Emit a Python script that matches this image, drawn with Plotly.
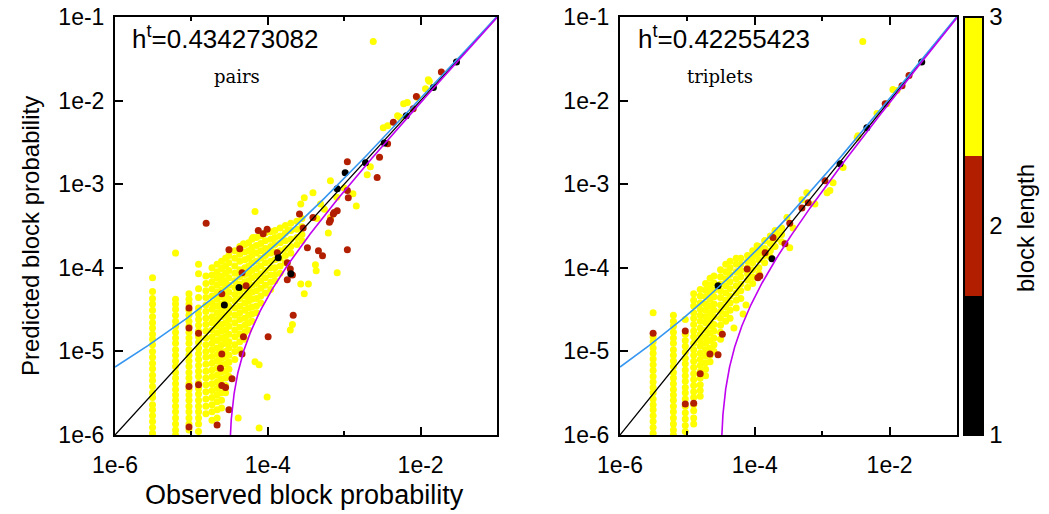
import numpy as np
import plotly.graph_objects as go

# ---------------- data ----------------
y_tick_vals = [1e-6, 1e-5, 1e-4, 1e-3, 1e-2, 1e-1]
y_tick_text = ["1e-6", "1e-5", "1e-4", "1e-3", "1e-2", "1e-1"]
x_tick_vals = [1e-6, 1e-4, 1e-2]
x_tick_text = ["1e-6", "1e-4", "1e-2"]
x_minor_vals = [1e-5, 1e-3]

panel_names = ["pairs", "triplets"]
entropy_labels = ["h<sup>t</sup>=0.434273082", "h<sup>t</sup>=0.42255423"]
band_coef = [5.5e-3, 5.5e-3]   # width of the +/- sqrt(p) bands

block_lengths = [1, 2, 3]
block_colors = ["#000000", "#b21f00", "#ffff00"]

# ---- pairs panel: yellow points organised by observed-probability column
pairs_col_x = [3.1e-6, 6.2e-6, 9.3e-6, 1.24e-5, 1.55e-5, 1.86e-5, 2.17e-5, 2.48e-5,
               2.8e-5, 3.1e-5, 3.7e-5, 4.3e-5, 5.0e-5, 5.6e-5, 6.2e-5, 7.1e-5,
               8.1e-5, 9.3e-5, 1.09e-4, 1.24e-4, 1.45e-4, 1.7e-4, 2.0e-4, 2.4e-4, 2.8e-4]
pairs_col_y = [
    [7.6e-5, 5.2e-5, 4.3e-5, 3.7e-5, 3.1e-5, 2.6e-5, 2.2e-5, 1.9e-5, 1.6e-5, 1.4e-5, 1.2e-5, 1.0e-5,
     8.5e-6, 7.2e-6, 6.2e-6, 5.2e-6, 4.5e-6, 3.8e-6, 3.2e-6, 2.8e-6, 2.3e-6, 2.0e-6, 1.7e-6, 1.45e-6,
     1.23e-6, 1.05e-6],
    [1.5e-4, 4.2e-5, 3.7e-5, 3.2e-5, 2.7e-5, 2.3e-5, 2.0e-5, 1.7e-5, 1.45e-5, 1.25e-5, 1.05e-5, 9.0e-6,
     7.7e-6, 6.6e-6, 5.6e-6, 4.8e-6, 4.1e-6, 3.5e-6, 3.0e-6, 2.6e-6, 2.2e-6, 1.9e-6, 1.6e-6, 1.35e-6,
     1.15e-6, 1.0e-6],
    [4.9e-5, 4.2e-5, 3.7e-5, 3.1e-5, 2.7e-5, 2.3e-5, 2.0e-5, 1.7e-5, 1.45e-5, 1.25e-5, 1.05e-5, 9.0e-6,
     7.7e-6, 6.6e-6, 5.6e-6, 4.8e-6, 4.1e-6, 3.5e-6, 3.0e-6, 2.6e-6, 2.2e-6, 1.9e-6, 1.6e-6, 1.35e-6,
     1.15e-6],
    [1.1e-4, 8.5e-5, 5.6e-5, 4.4e-5, 3.3e-5, 2.8e-5, 2.4e-5, 2.05e-5, 1.75e-5, 1.5e-5, 1.28e-5, 1.1e-5,
     9.4e-6, 8.0e-6, 6.8e-6, 5.8e-6, 5.0e-6, 4.2e-6, 3.6e-6, 3.1e-6, 2.6e-6, 2.2e-6, 1.9e-6, 1.6e-6,
     1.35e-6, 1.1e-6],
    [8.0e-5, 6.5e-5, 5.3e-5, 4.4e-5, 3.6e-5, 3.0e-5, 2.5e-5, 2.1e-5, 1.75e-5, 1.45e-5, 1.2e-5, 1.0e-5,
     8.5e-6, 7.0e-6, 5.8e-6, 4.8e-6, 4.0e-6, 3.3e-6, 2.7e-6, 2.2e-6, 1.8e-6],
    [1.0e-4, 8.2e-5, 6.8e-5, 5.6e-5, 4.6e-5, 3.8e-5, 3.2e-5, 2.6e-5, 2.2e-5, 1.8e-5, 1.5e-5, 1.25e-5,
     1.05e-5, 8.7e-6, 7.2e-6, 6.0e-6, 5.0e-6, 4.1e-6, 3.4e-6, 2.8e-6, 2.3e-6, 1.9e-6, 1.5e-6],
    [1.1e-4, 9.0e-5, 7.5e-5, 6.2e-5, 5.1e-5, 4.2e-5, 3.5e-5, 2.9e-5, 2.4e-5, 2.0e-5, 1.65e-5, 1.35e-5,
     1.1e-5, 9.2e-6, 7.6e-6, 6.3e-6, 5.2e-6, 4.3e-6, 3.6e-6, 3.0e-6, 2.5e-6, 2.0e-6, 1.6e-6],
    [1.2e-4, 9.8e-5, 8.0e-5, 6.6e-5, 5.4e-5, 4.5e-5, 3.7e-5, 3.1e-5, 2.6e-5, 2.1e-5, 1.75e-5, 1.45e-5,
     1.2e-5, 1.0e-5, 8.3e-6, 6.9e-6, 5.7e-6, 4.7e-6, 3.9e-6, 3.2e-6, 2.6e-6, 2.1e-6],
    [1.3e-4, 1.05e-4, 8.6e-5, 7.0e-5, 5.8e-5, 4.8e-5, 4.0e-5, 3.3e-5, 2.7e-5, 2.2e-5, 1.8e-5, 1.5e-5,
     1.25e-5, 1.0e-5, 8.5e-6, 7.0e-6, 5.8e-6, 4.8e-6, 3.9e-6, 3.2e-6],
    [1.4e-4, 1.15e-4, 9.3e-5, 7.6e-5, 6.2e-5, 5.1e-5, 4.2e-5, 3.5e-5, 2.9e-5, 2.4e-5, 2.0e-5, 1.6e-5,
     1.3e-5, 1.1e-5, 9.0e-6, 7.4e-6, 6.1e-6, 5.0e-6],
    [1.6e-4, 1.3e-4, 1.05e-4, 8.6e-5, 7.0e-5, 5.8e-5, 4.8e-5, 4.0e-5, 3.3e-5, 2.7e-5, 2.2e-5, 1.8e-5,
     1.5e-5, 1.2e-5, 1.0e-5, 8.0e-6],
    [1.8e-4, 1.45e-4, 1.2e-4, 9.5e-5, 7.8e-5, 6.4e-5, 5.2e-5, 4.3e-5, 3.5e-5, 2.9e-5, 2.4e-5, 1.95e-5,
     1.6e-5, 1.3e-5, 1.05e-5],
    [1.9e-4, 1.55e-4, 1.25e-4, 1.0e-4, 8.3e-5, 6.8e-5, 5.6e-5, 4.6e-5, 3.8e-5, 3.1e-5, 2.5e-5, 2.05e-5,
     1.7e-5, 1.4e-5],
    [2.0e-4, 1.6e-4, 1.3e-4, 1.05e-4, 8.6e-5, 7.0e-5, 5.8e-5, 4.8e-5, 4.0e-5, 3.3e-5, 2.7e-5, 2.2e-5, 1.8e-5],
    [2.2e-4, 1.75e-4, 1.4e-4, 1.15e-4, 9.3e-5, 7.6e-5, 6.2e-5, 5.1e-5, 4.2e-5, 3.4e-5, 2.8e-5, 2.3e-5],
    [2.3e-4, 1.85e-4, 1.5e-4, 1.2e-4, 9.8e-5, 8.0e-5, 6.5e-5, 5.3e-5, 4.3e-5, 3.5e-5, 2.9e-5],
    [2.4e-4, 1.95e-4, 1.6e-4, 1.3e-4, 1.05e-4, 8.5e-5, 7.0e-5, 5.7e-5, 4.6e-5, 3.8e-5],
    [2.6e-4, 2.1e-4, 1.7e-4, 1.4e-4, 1.15e-4, 9.3e-5, 7.6e-5, 6.2e-5, 5.0e-5],
    [2.7e-4, 2.2e-4, 1.8e-4, 1.5e-4, 1.2e-4, 1.0e-4, 8.2e-5, 6.7e-5, 5.5e-5],
    [2.8e-4, 2.3e-4, 1.9e-4, 1.55e-4, 1.25e-4, 1.0e-4, 8.3e-5, 7.0e-5],
    [3.0e-4, 2.4e-4, 2.0e-4, 1.6e-4, 1.3e-4, 1.05e-4, 8.6e-5],
    [3.2e-4, 2.6e-4, 2.1e-4, 1.7e-4, 1.4e-4, 1.15e-4],
    [3.4e-4, 2.8e-4, 2.2e-4, 1.8e-4, 1.5e-4],
    [3.6e-4, 2.9e-4, 2.3e-4, 1.9e-4],
    [3.9e-4, 3.1e-4, 2.5e-4, 2.1e-4],
]
pairs_yellow_x = [2.4e-3, 1.26e-2, 1.3e-2, 1.16e-2, 9.1e-3, 6.7e-3, 6.0e-3, 5.0e-3, 5.4e-3, 3.7e-3,
                  3.25e-3, 2.2e-3, 2.0e-3, 6.6e-4, 3.9e-4, 3.0e-4, 1.3e-3, 1.44e-3, 6.8e-5, 1.85e-4,
                  6.4e-5, 4.8e-5, 6.2e-5, 2.7e-4, 6.6e-4, 4.4e-4, 4.9e-4, 6.2e-4, 8.1e-4, 4.3e-4,
                  2.5e-5, 4.2e-4, 3.0e-4, 3.4e-4, 2.7e-4, 1.97e-4, 2.1e-4, 6.8e-5, 7.7e-5, 9.8e-5,
                  4.1e-5, 7.7e-5, 5.5e-4, 8.0e-4, 1.0e-3]
pairs_yellow_y = [5.1e-2, 1.78e-2, 1.7e-2, 1.39e-2, 1.09e-2, 9.5e-3, 9.2e-3, 6.6e-3, 6.3e-3, 5.0e-3,
                  4.75e-3, 1.62e-3, 1.3e-3, 1.1e-3, 7.9e-4, 6.9e-4, 7.7e-4, 5.5e-4, 4.7e-4, 2.8e-4,
                  2.3e-4, 1.94e-4, 1.6e-4, 5.8e-4, 4.0e-4, 3.9e-4, 5.8e-4, 2.6e-4, 8.7e-5, 9.2e-5,
                  6.8e-5, 1.09e-4, 4.9e-5, 6.4e-5, 6.4e-5, 1.8e-5, 2.1e-5, 7.5e-6, 6.9e-6, 2.85e-6,
                  1.6e-6, 1.21e-6, 5.0e-4, 7.0e-4, 9.0e-4]
pairs_red_x = [1.87e-2, 8.8e-3, 8.0e-3, 4.4e-3, 3.7e-3, 2.9e-3, 1.1e-3, 2.7e-3, 1.1e-3, 1.13e-3,
               8.1e-4, 7.2e-4, 6.6e-4, 3.9e-4, 2.6e-4, 1.56e-5, 7.5e-5, 9.8e-5, 8.7e-5, 3.1e-5,
               4.3e-5, 1.1e-3, 2.9e-4, 3.3e-4, 5.2e-4, 6.4e-4, 7.4e-4, 1.33e-4, 1.8e-4, 1.97e-4,
               2.1e-4, 1.8e-4, 4.6e-5, 5.2e-5, 2.5e-5, 4.6e-4, 2.15e-4, 1.01e-4, 4.8e-5, 4.6e-5,
               2.5e-5, 2.4e-5, 2.5e-5, 2.8e-5, 3.4e-5, 3.1e-5, 2.17e-5, 9.3e-6, 9.3e-6, 1.24e-5,
               9.3e-6, 9.3e-6, 1.24e-5]
pairs_red_y = [2.2e-2, 1.12e-2, 8.0e-3, 5.5e-3, 3.05e-3, 2.1e-3, 1.86e-3, 1.2e-3, 8.4e-4, 6.9e-4,
               4.8e-4, 4.4e-4, 3.7e-4, 4.0e-4, 4.4e-4, 3.4e-4, 2.8e-4, 2.9e-4, 2.55e-4, 1.64e-4,
               1.69e-4, 1.64e-4, 3.0e-4, 1.74e-4, 1.39e-4, 3.5e-4, 4.6e-4, 1.51e-4, 1.15e-4, 9.7e-5,
               8.2e-5, 7.2e-5, 8.7e-5, 6.1e-5, 4.9e-5, 1.6e-4, 2.7e-5, 1.5e-5, 1.5e-5, 9.3e-6,
               9.3e-6, 6.3e-6, 3.9e-6, 3.7e-6, 4.7e-6, 2.0e-6, 1.32e-6, 3.3e-5, 1.9e-5, 1.65e-5,
               3.8e-6, 1.25e-6, 4.0e-6]
pairs_black_x = [2.95e-2, 1.47e-2, 6.5e-3, 3.35e-3, 1.9e-3, 1.03e-3, 8.1e-4, 1.37e-4, 2.0e-4, 4.2e-5, 2.7e-5]
pairs_black_y = [2.9e-2, 1.43e-2, 6.6e-3, 3.1e-3, 1.8e-3, 1.37e-3, 8.8e-4, 1.32e-4, 8.5e-5, 5.8e-5, 3.6e-5]

# ---- triplets panel
triplets_col_x = [3.1e-6, 6.2e-6, 9.3e-6, 1.24e-5, 1.55e-5, 1.86e-5, 2.17e-5, 2.48e-5, 3.1e-5,
                  3.7e-5, 4.3e-5, 5.3e-5, 6.2e-5, 7.8e-5, 9.3e-5, 1.15e-4, 1.4e-4, 1.7e-4, 2.0e-4, 2.5e-4]
triplets_col_y = [
    [2.9e-5, 1.5e-5, 1.3e-5, 1.1e-5, 9.5e-6, 8.1e-6, 6.9e-6, 5.9e-6, 5.0e-6, 4.3e-6, 3.7e-6, 3.2e-6,
     2.7e-6, 2.3e-6, 2.0e-6, 1.7e-6, 1.45e-6, 1.23e-6, 1.05e-6],
    [2.7e-5, 2.3e-5, 2.0e-5, 1.7e-5, 1.45e-5, 1.25e-5, 1.05e-5, 9.0e-6, 7.7e-6, 6.6e-6, 5.6e-6, 4.8e-6,
     4.1e-6, 3.5e-6, 3.0e-6, 2.6e-6, 2.2e-6, 1.9e-6, 1.6e-6, 1.35e-6, 1.15e-6, 1.0e-6],
    [2.4e-5, 1.6e-5, 1.35e-5, 1.15e-5, 9.8e-6, 8.3e-6, 7.1e-6, 6.0e-6, 5.1e-6, 4.4e-6, 3.7e-6, 3.2e-6,
     2.7e-6, 2.2e-6, 1.85e-6, 1.55e-6, 1.3e-6, 1.1e-6],
    [4.9e-5, 4.1e-5, 3.5e-5, 2.9e-5, 2.5e-5, 2.1e-5, 1.75e-5, 1.5e-5, 1.25e-5, 1.05e-5, 9.0e-6, 7.6e-6,
     6.4e-6, 5.4e-6, 4.6e-6, 3.9e-6, 3.3e-6, 2.8e-6, 2.3e-6, 1.95e-6, 1.6e-6, 1.35e-6],
    [5.5e-5, 4.6e-5, 3.8e-5, 3.2e-5, 2.7e-5, 2.3e-5, 1.9e-5, 1.6e-5, 1.35e-5, 1.15e-5, 9.5e-6, 8.0e-6,
     6.8e-6, 5.7e-6, 4.8e-6, 4.0e-6, 3.4e-6, 2.9e-6],
    [6.5e-5, 5.4e-5, 4.5e-5, 3.7e-5, 3.1e-5, 2.6e-5, 2.2e-5, 1.8e-5, 1.5e-5, 1.25e-5, 1.05e-5, 8.8e-6,
     7.3e-6, 6.1e-6, 5.1e-6],
    [7.5e-5, 6.2e-5, 5.1e-5, 4.2e-5, 3.5e-5, 2.9e-5, 2.4e-5, 2.0e-5, 1.65e-5, 1.35e-5, 1.1e-5, 9.0e-6, 7.5e-6],
    [8.0e-5, 6.6e-5, 5.4e-5, 4.5e-5, 3.7e-5, 3.1e-5, 2.6e-5, 2.1e-5, 1.75e-5, 1.45e-5, 1.2e-5, 1.0e-5],
    [9.5e-5, 7.8e-5, 6.4e-5, 5.3e-5, 4.4e-5, 3.6e-5, 3.0e-5, 2.5e-5, 2.05e-5, 1.7e-5, 1.4e-5],
    [1.1e-4, 9.0e-5, 7.4e-5, 6.1e-5, 5.0e-5, 4.1e-5, 3.4e-5, 2.8e-5, 2.3e-5],
    [1.2e-4, 1.0e-4, 8.3e-5, 6.8e-5, 5.6e-5, 4.6e-5, 3.8e-5, 3.1e-5, 2.5e-5],
    [1.3e-4, 1.1e-4, 9.0e-5, 7.4e-5, 6.1e-5, 5.0e-5, 4.1e-5, 3.3e-5],
    [1.3e-4, 1.1e-4, 9.3e-5, 7.8e-5, 6.4e-5, 5.3e-5, 4.3e-5],
    [1.4e-4, 1.2e-4, 1.0e-4, 8.5e-5, 7.1e-5, 5.8e-5],
    [1.6e-4, 1.35e-4, 1.15e-4, 9.5e-5, 7.8e-5, 6.5e-5],
    [1.8e-4, 1.5e-4, 1.25e-4, 1.0e-4, 8.5e-5],
    [2.1e-4, 1.7e-4, 1.4e-4, 1.15e-4],
    [2.4e-4, 1.95e-4, 1.6e-4, 1.35e-4],
    [2.7e-4, 2.2e-4, 1.8e-4],
    [3.0e-4, 2.5e-4, 2.05e-4],
]
triplets_yellow_x = [4.0e-3, 1.12e-2, 1.29e-2, 9.1e-3, 6.5e-3, 3.4e-3, 3.3e-3, 2.04e-3, 1.45e-3, 1.3e-3,
                     1.18e-3, 5.9e-4, 5.0e-4, 7.8e-4, 3.0e-4, 3.7e-4, 2.0e-4, 2.13e-4, 1.42e-4, 1.19e-4,
                     3.3e-4, 1.08e-4, 1.08e-4, 8.5e-5, 1.95e-5, 4.9e-5, 6.7e-5, 7.4e-5]
triplets_yellow_y = [5.1e-2, 1.36e-2, 1.32e-2, 9.2e-3, 7.0e-3, 3.8e-3, 3.6e-3, 1.58e-3, 1.04e-3, 8.4e-4,
                     7.9e-4, 7.9e-4, 6.5e-4, 5.8e-4, 4.0e-4, 3.0e-4, 2.8e-4, 2.55e-4, 2.1e-4, 1.74e-4,
                     1.74e-4, 1.47e-4, 1.83e-4, 1.21e-4, 5.6e-5, 1.9e-5, 2.8e-5, 3.6e-5]
triplets_red_x = [1.94e-2, 1.53e-2, 8.6e-3, 1.1e-3, 6.2e-4, 5.0e-4, 3.3e-4, 1.86e-4, 2.8e-4, 1.42e-4,
                  7.7e-5, 1.11e-4, 1.19e-4, 3.3e-5, 2.85e-5, 2.16e-5, 1.55e-5, 1.24e-5, 9.3e-6, 9.3e-6, 3.1e-6]
triplets_red_y = [2.0e-2, 1.51e-2, 9.2e-3, 1.1e-3, 6.0e-4, 5.2e-4, 3.4e-4, 2.3e-4, 1.94e-4, 1.51e-4,
                  9.7e-5, 7.6e-5, 8.0e-5, 1.6e-5, 9.1e-6, 9.3e-6, 5.4e-6, 2.4e-6, 1.76e-5, 2.35e-6, 1.65e-5]
triplets_black_x = [3.0e-2, 4.6e-3, 1.84e-3, 1.8e-4, 2.85e-5]
triplets_black_y = [2.9e-2, 4.75e-3, 1.76e-3, 1.28e-4, 6.1e-5]

# ---------------- layout geometry ----------------
# The page body margin is removed (see post_script), so the figure fills the window.
W, H = 1049, 514
FONT = "Liberation Sans, Arial, Helvetica, sans-serif"


def px(xs):
    return xs / W


def py(ys):
    return (H - ys) / H


x_domains = [[px(115), px(497)], [px(620), px(957)]]
y_domain = [py(435), py(17)]


def expand_columns(col_x, col_y):
    xs, ys = [], []
    for cx, cys in zip(col_x, col_y):
        for cy in cys:
            xs.append(cx)
            ys.append(cy)
    return xs, ys


panels = [
    dict(col_x=pairs_col_x, col_y=pairs_col_y, yx=pairs_yellow_x, yy=pairs_yellow_y,
         rx=pairs_red_x, ry=pairs_red_y, bx=pairs_black_x, by=pairs_black_y),
    dict(col_x=triplets_col_x, col_y=triplets_col_y, yx=triplets_yellow_x, yy=triplets_yellow_y,
         rx=triplets_red_x, ry=triplets_red_y, bx=triplets_black_x, by=triplets_black_y),
]

fig = go.Figure()

for i, p in enumerate(panels):
    xa = "x" if i == 0 else "x2"
    ya = "y" if i == 0 else "y2"
    cx, cy = expand_columns(p["col_x"], p["col_y"])
    yellow_x = cx + p["yx"]
    yellow_y = cy + p["yy"]
    groups = [(yellow_x, yellow_y, block_lengths[2]),
              (p["rx"], p["ry"], block_lengths[1]),
              (p["bx"], p["by"], block_lengths[0])]
    for gx, gy, length in groups:
        fig.add_trace(go.Scatter(
            x=gx, y=gy, mode="markers", xaxis=xa, yaxis=ya, showlegend=False,
            marker=dict(size=7, color=[length] * len(gx), coloraxis="coloraxis",
                        line=dict(width=0)),
            hoverinfo="skip"))

    a = band_coef[i]
    xs = np.logspace(-6, -1, 500)
    fig.add_trace(go.Scatter(x=xs, y=xs, mode="lines", xaxis=xa, yaxis=ya, showlegend=False,
                             line=dict(color="black", width=1.3), hoverinfo="skip"))
    fig.add_trace(go.Scatter(x=xs, y=xs + a * np.sqrt(xs), mode="lines", xaxis=xa, yaxis=ya,
                             showlegend=False, line=dict(color="#3596f0", width=1.6),
                             hoverinfo="skip"))
    t = np.logspace(-3, np.log10(0.1 / a ** 2 - 1), 900)
    xm = a ** 2 * (1 + t)
    fig.add_trace(go.Scatter(x=xm, y=xm - a * np.sqrt(xm), mode="lines", xaxis=xa, yaxis=ya,
                             showlegend=False, line=dict(color="#c000f0", width=1.6),
                             hoverinfo="skip"))

axis_common = dict(type="log", range=[-6, -1], showgrid=False, zeroline=False,
                   showline=True, linecolor="black", linewidth=2, automargin=False,
                   ticklabeloverflow="allow",
                   tickfont=dict(family=FONT, size=23, color="black"))

for i in range(2):
    sfx = "" if i == 0 else str(i + 1)
    fig.layout["xaxis" + sfx] = dict(
        axis_common, domain=x_domains[i], anchor="y" + sfx,
        tickmode="array", tickvals=x_tick_vals, ticktext=x_tick_text,
        ticks="inside", ticklen=8, tickwidth=2, tickcolor="black", mirror="ticks",
        ticklabelstandoff=8,
        minor=dict(tickmode="array", tickvals=x_minor_vals, ticks="inside", ticklen=4,
                   tickwidth=2, tickcolor="black"))
    fig.layout["yaxis" + sfx] = dict(
        axis_common, domain=y_domain, anchor="x" + sfx,
        tickmode="array", tickvals=y_tick_vals, ticktext=y_tick_text,
        ticks="inside", ticklen=8, tickwidth=2, tickcolor="black", mirror=True,
        ticklabelstandoff=4)

annotations = []
for i in range(2):
    x0 = [130, 636][i]
    annotations.append(dict(text=entropy_labels[i], xref="paper", yref="paper",
                            x=px(x0), y=py(38), xanchor="left", yanchor="middle",
                            showarrow=False, font=dict(family=FONT, size=26, color="black")))
    xc = [237, 720][i]
    annotations.append(dict(text=panel_names[i], xref="paper", yref="paper",
                            x=px(xc), y=py(76), xanchor="center", yanchor="middle",
                            showarrow=False,
                            font=dict(family="DejaVu Serif, serif", size=18, color="black")))

annotations.append(dict(text="Predicted block probability", xref="paper", yref="paper",
                        x=px(30), y=py(236), textangle=-90, showarrow=False,
                        xanchor="center", yanchor="middle",
                        font=dict(family=FONT, size=24, color="black")))
annotations.append(dict(text="Observed block probability", xref="paper", yref="paper",
                        x=px(304), y=py(495), showarrow=False,
                        xanchor="center", yanchor="middle",
                        font=dict(family=FONT, size=27, color="black")))
annotations.append(dict(text="block length", xref="paper", yref="paper",
                        x=px(1025), y=py(228), textangle=-90, showarrow=False,
                        xanchor="center", yanchor="middle",
                        font=dict(family=FONT, size=24, color="black")))

cscale = [[0.0, block_colors[0]], [1 / 3, block_colors[0]],
          [1 / 3, block_colors[1]], [2 / 3, block_colors[1]],
          [2 / 3, block_colors[2]], [1.0, block_colors[2]]]

fig.update_layout(
    width=W, height=H,
    margin=dict(l=0, r=0, t=0, b=0, pad=0, autoexpand=False),
    paper_bgcolor="white", plot_bgcolor="white",
    showlegend=False,
    annotations=annotations,
    coloraxis=dict(
        cmin=1, cmax=3, colorscale=cscale,
        colorbar=dict(
            x=px(964), xanchor="left", y=(y_domain[0] + y_domain[1]) / 2, yanchor="middle",
            len=y_domain[1] - y_domain[0], lenmode="fraction",
            thickness=19, thicknessmode="pixels", xpad=0, ypad=0,
            outlinewidth=2, outlinecolor="black",
            tickmode="array", tickvals=[1, 2, 3], ticktext=["1", "2", "3"], ticks="",
            ticklabeloverflow="allow",
            tickfont=dict(family=FONT, size=24, color="black"),
            title=dict(text=""))),
    shapes=[dict(type="line", xref="paper", yref="paper", x0=px(964), x1=px(983),
                 y0=py(227), y1=py(227), line=dict(color="black", width=2))],
)

fig.write_html("out.html",
               config={"displayModeBar": False, "staticPlot": True},
               post_script="document.body.style.margin='0px';"
                           "document.body.style.overflow='hidden';")
